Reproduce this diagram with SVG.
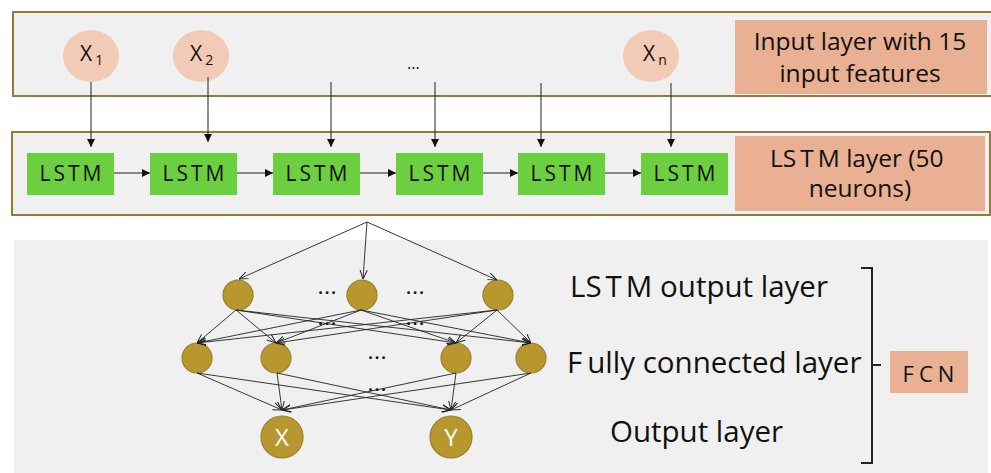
<svg xmlns="http://www.w3.org/2000/svg" width="991" height="473" viewBox="0 0 991 473">
<defs>
<style>
.panel{fill:#f0f0f0;stroke:#8e7d3c;stroke-width:2}
.inp{fill:#f2cbb7}
.lstm{fill:#6ccf3f}
.lab{fill:#e9b093}
.gold{fill:#b8972f;stroke:#9a7f2c;stroke-width:1.2}
.t{font-family:"Open Sans","Noto Sans",sans-serif;fill:#111}
.c1{stroke:#222;stroke-width:1;fill:none}
.c2{stroke:#222;stroke-width:0.9;fill:none}
</style>
<marker id="ah" viewBox="0 0 10 10" refX="10" refY="5" markerWidth="8" markerHeight="8" markerUnits="userSpaceOnUse" orient="auto">
<path d="M0,0 L10,5 L0,10 z" fill="#111"/>
</marker>
<marker id="ov" viewBox="0 0 10 10" refX="10" refY="5" markerWidth="9" markerHeight="9" markerUnits="userSpaceOnUse" orient="auto">
<path d="M0,1 L10,5 L0,9" fill="none" stroke="#222" stroke-width="1.1"/>
</marker>
</defs>

<g id="panel-input"><rect class="panel" x="13" y="12" width="980" height="84"/></g>
<g id="panel-lstm"><rect class="panel" x="12" y="132" width="978" height="83"/></g>
<g id="panel-fcn"><rect x="14" y="240" width="974" height="233" fill="#f0f0f0"/></g>

<g id="x1"><ellipse class="inp" cx="91" cy="56" rx="28" ry="26"/><text class="t" x="80" y="61" font-size="21">X<tspan font-size="14" dx="3" dy="4">1</tspan></text></g>
<g id="x2"><ellipse class="inp" cx="201" cy="56" rx="28" ry="26"/><text class="t" x="190" y="61" font-size="21">X<tspan font-size="14" dx="3" dy="4">2</tspan></text></g>
<g id="dots-top"><text class="t" x="407" y="69" font-size="16">...</text></g>
<g id="xn"><ellipse class="inp" cx="651" cy="56" rx="28" ry="26"/><text class="t" x="643" y="61" font-size="21">X<tspan font-size="14" dx="3" dy="4">n</tspan></text></g>

<g id="label-input"><rect class="lab" x="735" y="20" width="252" height="74"/>
<text class="t" x="860" y="50" font-size="24.5" text-anchor="middle">Input layer with 15</text>
<text class="t" x="860" y="82" font-size="24.5" text-anchor="middle">input features</text></g>

<g id="lstm1"><rect class="lstm" x="27" y="153" width="87" height="42"/><text class="t" x="72" y="181" font-size="21" letter-spacing="3" text-anchor="middle">LSTM</text></g>
<g id="lstm2"><rect class="lstm" x="150" y="153" width="87" height="42"/><text class="t" x="195" y="181" font-size="21" letter-spacing="3" text-anchor="middle">LSTM</text></g>
<g id="lstm3"><rect class="lstm" x="273" y="153" width="87" height="42"/><text class="t" x="318" y="181" font-size="21" letter-spacing="3" text-anchor="middle">LSTM</text></g>
<g id="lstm4"><rect class="lstm" x="396" y="153" width="87" height="42"/><text class="t" x="441" y="181" font-size="21" letter-spacing="3" text-anchor="middle">LSTM</text></g>
<g id="lstm5"><rect class="lstm" x="518" y="153" width="87" height="42"/><text class="t" x="563" y="181" font-size="21" letter-spacing="3" text-anchor="middle">LSTM</text></g>
<g id="lstm6"><rect class="lstm" x="641" y="153" width="87" height="42"/><text class="t" x="686" y="181" font-size="21" letter-spacing="3" text-anchor="middle">LSTM</text></g>

<g id="label-lstm"><rect class="lab" x="735" y="136" width="250" height="75"/>
<text class="t" x="770" y="167" font-size="24.5">L<tspan letter-spacing="4">ST</tspan>M layer (50</text>
<text class="t" x="860" y="197" font-size="24.5" text-anchor="middle">neurons)</text></g>

<g id="n1a"><circle class="gold" cx="238" cy="295" r="15"/></g>
<g id="n1b"><circle class="gold" cx="362" cy="295" r="15"/></g>
<g id="n1c"><circle class="gold" cx="498" cy="295" r="15"/></g>
<g id="n2a"><circle class="gold" cx="197" cy="358" r="15"/></g>
<g id="n2b"><circle class="gold" cx="276" cy="358" r="15"/></g>
<g id="n2c"><circle class="gold" cx="456" cy="358" r="15"/></g>
<g id="n2d"><circle class="gold" cx="531" cy="358" r="15"/></g>
<g id="outX"><circle class="gold" cx="282" cy="437" r="21"/><text x="282" y="446" font-family="Open Sans,sans-serif" font-size="24" fill="#fff" text-anchor="middle">X</text></g>
<g id="outY"><circle class="gold" cx="451" cy="437" r="21"/><text x="451" y="446" font-family="Open Sans,sans-serif" font-size="24" fill="#fff" text-anchor="middle">Y</text></g>

<g id="dots-nn" class="t" font-size="16" font-weight="bold" letter-spacing="2">
<text x="328" y="294" text-anchor="middle">...</text>
<text x="416" y="294" text-anchor="middle">...</text>
<text x="328" y="325" text-anchor="middle">...</text>
<text x="416" y="325" text-anchor="middle">...</text>
<text x="378" y="359" text-anchor="middle">...</text>
<text x="378" y="391" text-anchor="middle">...</text>
</g>

<g id="layer-labels">
<text class="t" x="570" y="297" font-size="29.5">L<tspan letter-spacing="4">ST</tspan>M output layer</text>
<text class="t" x="567" y="373" font-size="29.5">F<tspan dx="5">ully connected layer</tspan></text>
<text class="t" x="610" y="442" font-size="29.5">Output layer</text>
</g>

<g id="fcn"><rect class="lab" x="890" y="351" width="78" height="42"/><text class="t" x="931" y="382" font-size="22" letter-spacing="5" text-anchor="middle">FCN</text></g>

<g id="bracket"><path d="M861,268 H872 V463 H861 M872,365 H881" fill="none" stroke="#222" stroke-width="2"/></g>

<g id="connectors">
<g class="c1" marker-end="url(#ah)">
<line x1="91" y1="82" x2="91" y2="147"/>
<line x1="208" y1="77" x2="208" y2="142"/>
<line x1="331" y1="82" x2="331" y2="147"/>
<line x1="435" y1="82" x2="435" y2="147"/>
<line x1="541" y1="83" x2="541" y2="147"/>
<line x1="671" y1="83" x2="671" y2="147"/>
<line x1="114" y1="173" x2="150" y2="173"/>
<line x1="237" y1="173" x2="273" y2="173"/>
<line x1="360" y1="173" x2="396" y2="173"/>
<line x1="483" y1="173" x2="518" y2="173"/>
<line x1="605" y1="173" x2="641" y2="173"/>
</g>
<g class="c2" marker-end="url(#ov)">
<line x1="367" y1="222" x2="239" y2="279"/>
<line x1="367" y1="222" x2="363" y2="279"/>
<line x1="367" y1="222" x2="497" y2="280"/>
<line x1="236" y1="310" x2="197" y2="343"/>
<line x1="236" y1="310" x2="276" y2="343"/>
<line x1="236" y1="310" x2="456" y2="343"/>
<line x1="236" y1="310" x2="531" y2="343"/>
<line x1="361" y1="310" x2="197" y2="343"/>
<line x1="361" y1="310" x2="276" y2="343"/>
<line x1="361" y1="310" x2="456" y2="343"/>
<line x1="361" y1="310" x2="531" y2="343"/>
<line x1="497" y1="310" x2="197" y2="343"/>
<line x1="497" y1="310" x2="276" y2="343"/>
<line x1="497" y1="310" x2="456" y2="343"/>
<line x1="497" y1="310" x2="531" y2="343"/>
<line x1="197" y1="373" x2="282" y2="410"/>
<line x1="197" y1="373" x2="451" y2="410"/>
<line x1="277" y1="373" x2="282" y2="410"/>
<line x1="277" y1="373" x2="451" y2="410"/>
<line x1="456" y1="373" x2="282" y2="410"/>
<line x1="456" y1="373" x2="451" y2="410"/>
<line x1="531" y1="373" x2="282" y2="410"/>
<line x1="531" y1="373" x2="451" y2="410"/>
</g>
</g>
</svg>
